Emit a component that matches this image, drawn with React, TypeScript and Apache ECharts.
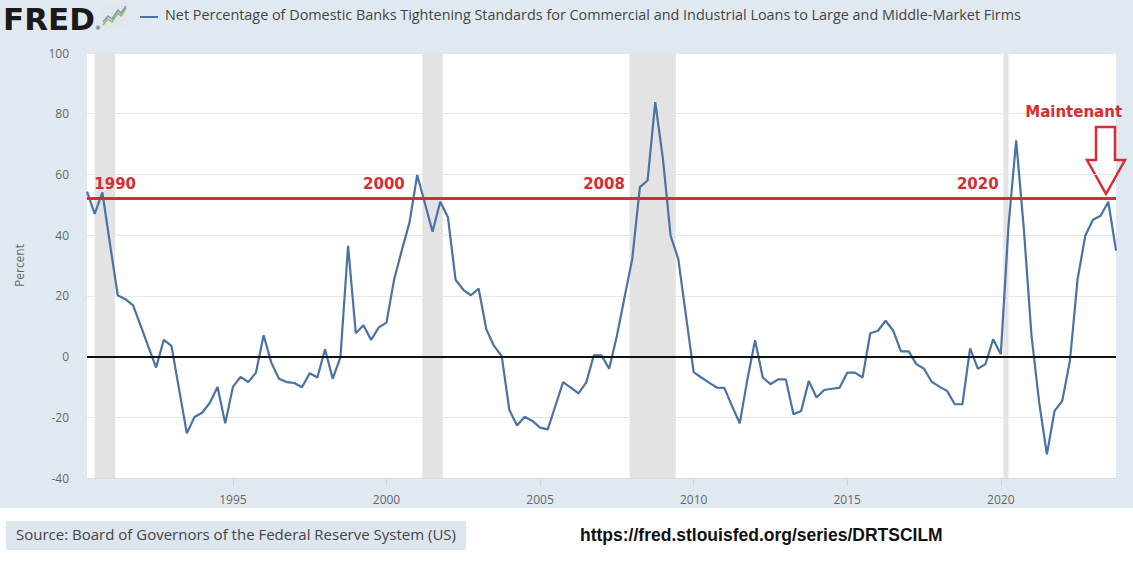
import React, { useEffect, useRef } from "react";
import * as echarts from "echarts";

// Quarterly observations, first one is 1990 Q2 (1990-04-01)
const startYear = 1990;
const startMonth = 4;
const values: number[] = [
  54.3, 47.0, 54.1, 37.0, 20.2, 18.9, 16.9, 10.1, 3.2, -3.6,
  5.5, 3.5, -10.9, -25.3, -19.9, -18.5, -15.2, -10.0, -22.0, -10.0,
  -6.7, -8.4, -5.3, 7.0, -2.0, -7.3, -8.4, -8.7, -10.1, -5.5,
  -6.9, 2.4, -7.3, -0.3, 36.5, 7.7, 10.3, 5.5, 9.6, 11.2,
  25.5, 35.0, 44.2, 59.8, 50.5, 41.1, 51.0, 45.9, 25.3, 22.0,
  20.2, 22.4, 9.0, 3.5, 0.2, -17.6, -22.7, -19.8, -21.2, -23.4,
  -24.0, -16.2, -8.4, -10.2, -12.1, -8.6, 0.4, 0.4, -4.0, 6.8,
  19.5, 32.1, 55.8, 58.0, 83.8, 65.1, 39.8, 32.1, 13.5, -5.1,
  -6.9, -8.6, -10.2, -10.3, -16.3, -22.0, -7.5, 5.4, -6.9, -9.1,
  -7.5, -7.5, -19.0, -17.9, -8.0, -13.5, -11.0, -10.6, -10.3, -5.3,
  -5.3, -6.9, 7.7, 8.5, 11.8, 8.5, 1.7, 1.7, -2.5, -4.0,
  -8.3, -9.9, -11.3, -15.7, -15.7, 2.7, -4.0, -2.5, 5.7, 0.8,
  43.0, 71.2, 42.0, 6.8, -15.2, -32.2, -17.9, -14.6, -1.4, 25.5,
  39.8, 45.1, 46.4, 51.0, 34.9,
];

const dates: string[] = values.map((_, i) => {
  const m = startMonth - 1 + i * 3;
  const y = startYear + Math.floor(m / 12);
  const mm = (m % 12) + 1;
  return `${y}-${String(mm).padStart(2, "0")}-01`;
});

const xTickYears = [1995, 2000, 2005, 2010, 2015, 2020];
const yMin = -40;
const yMax = 100;
const yStep = 20;

const recessions: [string, string][] = [
  ["1990-07-01", "1991-03-01"],
  ["2001-03-01", "2001-11-01"],
  ["2007-12-01", "2009-06-01"],
  ["2020-02-01", "2020-04-01"],
];

const thresholdLevel = 52;

const annotationNames = ["1990", "2000", "2008", "2020", "Maintenant"];
const annotationDates = ["1991-03-01", "1999-12-01", "2007-02-01", "2019-04-01", "2022-05-15"];
const annotationValues = [57, 57, 57, 57, 80.5];

const titleText =
  "Net Percentage of Domestic Banks Tightening Standards for Commercial and Industrial Loans to Large and Middle-Market Firms";
const sourceText = "Source: Board of Governors of the Federal Reserve System (US)";
const urlText = "https://fred.stlouisfed.org/series/DRTSCILM";

const RED = "#d92b33";
const BLUE = "#4a72a5";

// date string -> fractional year for the value axis
function toYear(d: string): number {
  const [y, m, day] = d.split("-").map(Number);
  return y + (m - 1) / 12 + ((day || 1) - 1) / 365;
}

export default function App() {
  const ref = useRef<HTMLDivElement>(null);

  useEffect(() => {
    document.body.style.margin = "0";
    if (!ref.current) return;
    const chart = echarts.init(ref.current, undefined, { renderer: "svg" });

    chart.setOption({
      animation: false,
      backgroundColor: "transparent",
      textStyle: { fontFamily: "Open Sans" },
      grid: {
        left: 87,
        top: 53,
        right: 17,
        bottom: 87,
        show: true,
        backgroundColor: "#ffffff",
        borderWidth: 0,
      },
      xAxis: {
        type: "value",
        min: toYear(dates[0]),
        max: toYear(dates[dates.length - 1]),
        axisLine: { show: true, onZero: false, lineStyle: { color: "#d5dde6", width: 1 } },
        axisTick: {
          show: true,
          customValues: xTickYears,
          length: 8,
          lineStyle: { color: "#ccd6eb" },
        },
        axisLabel: {
          customValues: xTickYears,
          formatter: (v: number) => String(Math.round(v)),
          color: "#666666",
          fontSize: 12,
          fontFamily: "Open Sans",
          margin: 15,
        },
        splitLine: { show: false },
      },
      yAxis: {
        type: "value",
        min: yMin,
        max: yMax,
        interval: yStep,
        name: "Percent",
        nameLocation: "middle",
        nameGap: 62,
        nameTextStyle: { color: "#666666", fontSize: 12, fontFamily: "Open Sans" },
        axisLine: { show: false },
        axisTick: { show: false },
        axisLabel: { color: "#666666", fontSize: 12, fontFamily: "Open Sans", margin: 18 },
        splitLine: { show: true, lineStyle: { color: "#e6e6e6", width: 1 } },
      },
      series: [
        {
          type: "line",
          data: dates.map((d, i) => [toYear(d), values[i]]),
          showSymbol: false,
          symbol: "none",
          lineStyle: { color: BLUE, width: 2.2 },
          itemStyle: { color: BLUE },
          z: 3,
          markArea: {
            silent: true,
            itemStyle: { color: "#e3e3e3" },
            data: recessions.map(([a, b]) => [{ xAxis: toYear(a) }, { xAxis: toYear(b) }]),
          },
          markLine: {
            silent: true,
            symbol: "none",
            label: { show: false },
            data: [
              { yAxis: 0, lineStyle: { color: "#111111", width: 2, type: "solid" } },
              { yAxis: thresholdLevel, lineStyle: { color: RED, width: 3, type: "solid" } },
            ],
          },
          markPoint: {
            silent: true,
            symbol: "circle",
            symbolSize: 0,
            label: {
              show: true,
              position: "inside",
              formatter: "{b}",
              color: RED,
              fontSize: 15,
              fontWeight: "bold",
              fontFamily: "DejaVu Sans",
            },
            data: annotationNames.map((n, i) => ({
              name: n,
              coord: [toYear(annotationDates[i]), annotationValues[i]],
            })),
          },
        },
      ],
      graphic: [
        {
          type: "text",
          left: 3,
          top: 3,
          style: {
            text: "FRED",
            fontSize: 31,
            lineHeight: 31,
            fontWeight: "bold",
            fontFamily: "DejaVu Sans",
            fill: "#1a1a1a",
          },
        },
        {
          type: "text",
          left: 95,
          top: 24,
          style: { text: "®", fontSize: 6, fill: "#1a1a1a", fontFamily: "DejaVu Sans" },
        },
        {
          type: "rect",
          shape: { x: 101, y: 5, width: 27, height: 23, r: 2 },
          style: { fill: "#e2e6ea" },
        },
        {
          type: "polyline",
          shape: { points: [[103, 25], [108, 19], [112, 22], [118, 13], [121, 16], [126, 8]] },
          style: { stroke: "#8bbd5a", lineWidth: 1.5, fill: "none" },
        },
        {
          type: "polyline",
          shape: { points: [[103, 22], [108, 16], [112, 19], [118, 10], [121, 13], [126, 6]] },
          style: { stroke: "#7a97c4", lineWidth: 1.5, fill: "none" },
        },
        {
          type: "line",
          shape: { x1: 140, y1: 17, x2: 158, y2: 17 },
          style: { stroke: BLUE, lineWidth: 2 },
        },
        {
          type: "text",
          left: 165,
          top: 7,
          style: { text: titleText, fontSize: 14.4, fontFamily: "Open Sans", fill: "#444444" },
        },
        {
          type: "polygon",
          shape: {
            points: [
              [1096, 127],
              [1115, 127],
              [1115, 160],
              [1125, 160],
              [1106, 194],
              [1087, 160],
              [1096, 160],
            ],
          },
          style: { stroke: RED, lineWidth: 2.5, fill: "none", lineJoin: "miter" },
        },
        {
          type: "rect",
          shape: { x: 6, y: 521, width: 460, height: 29 },
          style: { fill: "#dde5ee" },
        },
        {
          type: "text",
          left: 16,
          top: 526,
          style: { text: sourceText, fontSize: 15, fontFamily: "Open Sans", fill: "#444444" },
        },
        {
          type: "text",
          left: 580,
          top: 526,
          style: {
            text: urlText,
            fontSize: 17.5,
            fontWeight: "bold",
            fontFamily: "Liberation Sans Narrow, Liberation Sans, sans-serif",
            fill: "#111111",
          },
        },
      ],
    });

    return () => chart.dispose();
  }, []);

  return (
    <div
      ref={ref}
      style={{
        width: 1133,
        height: 565,
        background: "linear-gradient(#e1e9f0 0px, #e1e9f0 508px, #ffffff 508px)",
      }}
    />
  );
}
